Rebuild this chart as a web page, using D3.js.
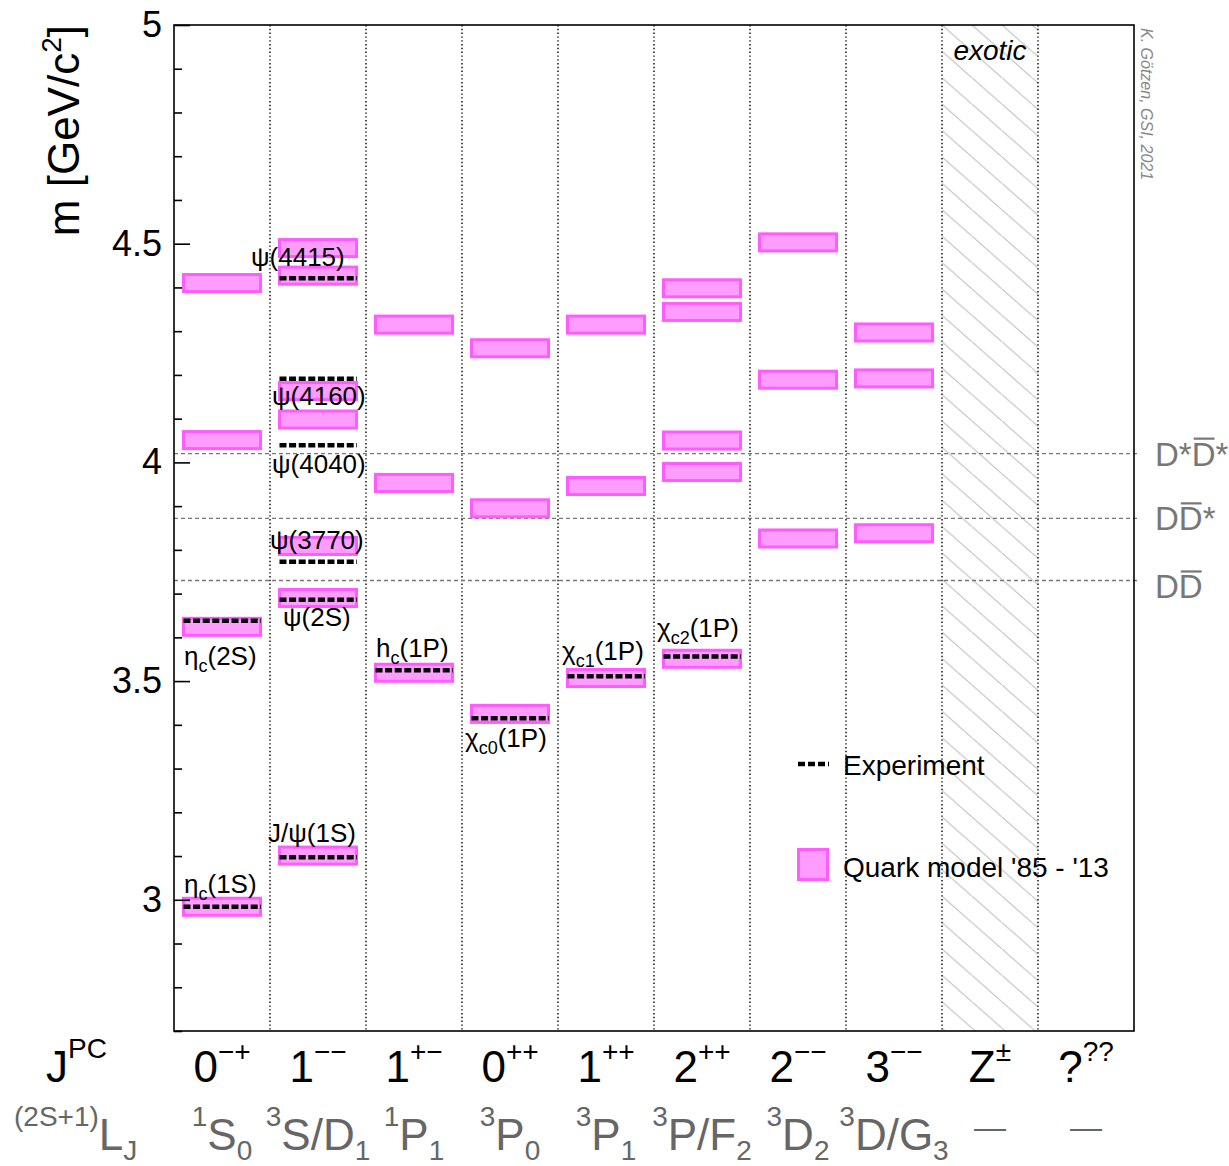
<!DOCTYPE html>
<html>
<head>
<meta charset="utf-8">
<script src="https://cdn.jsdelivr.net/npm/d3@7"></script>
<style>
  body { margin: 0; background: #fff; }
  svg { display: block; }
</style>
</head>
<body>
<div id="chart"></div>
<script>
// colonnes : J^PC et (2S+1)L_J
const jpcBase = ["0", "1", "1", "0", "1", "2", "2", "3", "Z", "?"];
const jpcSup = ["−+", "−−", "+−", "++", "++", "++", "−−", "−−", "±", "??"];
const lsPre = ["1", "3", "1", "3", "3", "3", "3", "3", "", ""];
const lsMain = ["S", "S/D", "P", "P", "P", "P/F", "D", "D/G", "—", "—"];
const lsSub = ["0", "1", "1", "0", "1", "2", "2", "3", "", ""];

// modèle des quarks (GeV/c2)
const modelCol = [0, 0, 0, 0, 1, 1, 1, 1, 1, 1, 1, 2, 2, 2, 3, 3, 3, 4, 4, 4, 5, 5, 5, 5, 5, 6, 6, 6, 7, 7, 7];
const modelMass = [4.410, 4.051, 3.624, 2.984,
  4.490, 4.427, 4.163, 4.098, 3.809, 3.690, 3.101,
  4.315, 3.953, 3.519,
  4.261, 3.895, 3.425,
  4.315, 3.946, 3.507,
  4.398, 4.344, 4.050, 3.978, 3.551,
  4.503, 4.189, 3.826,
  4.297, 4.192, 3.838];

// états mesurés
const expCol = [0, 0, 1, 1, 1, 1, 1, 1, 2, 3, 4, 5];
const expMass = [2.984, 3.638, 3.097, 3.686, 3.773, 4.039, 4.191, 4.421, 3.525, 3.415, 3.511, 3.556];
const expSym = ["η", "η", "J/ψ", "ψ", "ψ", "ψ", "ψ", "ψ", "h", "χ", "χ", "χ"];
const expSub = ["c", "c", "", "", "", "", "", "", "c", "c0", "c1", "c2"];
const expTail = ["(1S)", "(2S)", "(1S)", "(2S)", "(3770)", "(4040)", "(4160)", "(4415)", "(1P)", "(1P)", "(1P)", "(1P)"];

// seuils D D-bar
const thrMass = [4.020, 3.872, 3.730];
const thrText = ["D*D*", "DD*", "DD"];
const thrBar = [2, 1, 1];

const yMajor = [3, 3.5, 4, 4.5, 5];

// placement des étiquettes (px)
const labelDx = [10, 10, -2, 13, 0, 2, 2, -19, 10, 3, 4, 3];
const labelDy = [-14, 44, -15, 26, -13, 28, 26, -12, -13, 29, -16, -20];
const thrDy = [12, 12, 18];

const W = 1229, H = 1166;
const x0 = 174, x1 = 1134, yTop = 25, yBot = 1031;
const ff = '"Liberation Sans", Arial, Helvetica, sans-serif';

const svg = d3.select("#chart").append("svg")
  .attr("width", W).attr("height", H)
  .style("font-family", ff);

svg.append("rect").attr("width", W).attr("height", H).attr("fill", "#fff");

const x = d3.scaleBand().domain(d3.range(10)).range([x0, x1]);
const y = d3.scaleLinear().domain([2.7, 5]).range([yBot, yTop]);

// texte avec exposants / indices
function rich(sel, px, py, parts, anchor) {
  const t = sel.append("text").attr("x", px).attr("y", py)
    .attr("text-anchor", anchor || "start");
  let cur = 0;
  parts.filter(p => p.t !== "").forEach(p => {
    const s = p.shift || 0;
    t.append("tspan").attr("dy", s - cur).style("font-size", p.size + "px").text(p.t);
    cur = s;
  });
  return t;
}

// hachures colonne exotique
const defs = svg.append("defs");
const pat = defs.append("pattern").attr("id", "hatch")
  .attr("patternUnits", "userSpaceOnUse").attr("width", 30).attr("height", 26.4)
  .attr("x", x(8)).attr("y", yTop);
pat.append("path").attr("d", "M0,0L30,26.4")
  .attr("stroke", "#c4c4c4").attr("stroke-width", 1.2);
svg.append("rect")
  .attr("x", x(8)).attr("y", yTop).attr("width", x.bandwidth()).attr("height", yBot - yTop)
  .attr("fill", "url(#hatch)");

// séparateurs de colonnes
svg.append("g").selectAll("line").data(d3.range(1, 10)).enter().append("line")
  .attr("x1", d => x(d)).attr("x2", d => x(d))
  .attr("y1", yTop).attr("y2", yBot)
  .attr("stroke", "#222").attr("stroke-width", 1.6).attr("stroke-dasharray", "1.4,2.4");

// seuils
svg.append("g").selectAll("line").data(thrMass).enter().append("line")
  .attr("x1", x0).attr("x2", x1 + 6)
  .attr("y1", d => y(d)).attr("y2", d => y(d))
  .attr("stroke", "#777").attr("stroke-width", 1.3).attr("stroke-dasharray", "4,3");

// boîtes du modèle
const boxHalf = 0.0195;
svg.append("g").selectAll("rect").data(modelMass).enter().append("rect")
  .attr("x", (d, i) => x(modelCol[i]) + 9.5)
  .attr("width", x.bandwidth() - 19)
  .attr("y", d => y(d + boxHalf))
  .attr("height", d => y(d - boxHalf) - y(d + boxHalf))
  .attr("fill", "#ff9cff").attr("stroke", "#ff5cff").attr("stroke-width", 3);

// lignes expérimentales
svg.append("g").selectAll("line").data(expMass).enter().append("line")
  .attr("x1", (d, i) => x(expCol[i]) + 9.5)
  .attr("x2", (d, i) => x(expCol[i]) + x.bandwidth() - 9)
  .attr("y1", d => y(d)).attr("y2", d => y(d))
  .attr("stroke", "#000").attr("stroke-width", 4.5).attr("stroke-dasharray", "7,2.6");

// étiquettes des états
const lab = svg.append("g").attr("fill", "#000");
expMass.forEach((m, i) => {
  const parts = [{ t: expSym[i], size: 26 }];
  if (expSub[i]) parts.push({ t: expSub[i], size: 18, shift: 7 });
  parts.push({ t: expTail[i], size: 26, shift: 0 });
  rich(lab, x(expCol[i]) + labelDx[i], y(m) + labelDy[i], parts);
});

// cadre
svg.append("rect").attr("x", x0).attr("y", yTop)
  .attr("width", x1 - x0).attr("height", yBot - yTop)
  .attr("fill", "none").attr("stroke", "#000").attr("stroke-width", 1.6);

// axe Y
const minor = d3.range(27, 51).map(d => d / 10).filter(d => !yMajor.includes(d));
svg.append("g").attr("transform", `translate(${x0},0)`)
  .call(d3.axisLeft(y).tickValues(minor).tickSizeInner(-8).tickSizeOuter(0).tickFormat(""))
  .call(g => g.select(".domain").remove())
  .call(g => g.selectAll("line").attr("stroke-width", 1.6));
svg.append("g").attr("transform", `translate(${x0},0)`)
  .call(d3.axisLeft(y).tickValues(yMajor).tickSizeInner(-16).tickSizeOuter(0)
    .tickPadding(12).tickFormat(d3.format("~g")))
  .attr("font-size", 36).attr("font-family", ff)
  .call(g => g.select(".domain").remove())
  .call(g => g.selectAll("line").attr("stroke-width", 1.6))
  .call(g => g.selectAll("text").attr("fill", "#000"));

rich(svg.append("g").attr("transform", `translate(79,${yTop}) rotate(-90)`), 0, 0, [
  { t: "m [GeV/c", size: 44 },
  { t: "2", size: 28, shift: -18 },
  { t: "]", size: 44, shift: 0 }
], "end");

// étiquettes de colonnes
const row1 = svg.append("g").attr("fill", "#000");
rich(row1, 46, 1082, [{ t: "J", size: 44 }, { t: "PC", size: 28, shift: -24 }]);
jpcBase.forEach((b, i) => {
  rich(row1, x(i) + x.bandwidth() / 2, 1082,
    [{ t: b, size: 44 }, { t: jpcSup[i], size: 28, shift: -21 }], "middle");
});

const row2 = svg.append("g").attr("fill", "#666");
rich(row2, 14, 1150, [
  { t: "(2S+1)", size: 28, shift: -24 },
  { t: "L", size: 44, shift: 0 },
  { t: "J", size: 28, shift: 10 }
]);
lsMain.forEach((mn, i) => {
  const parts = [];
  if (lsPre[i]) parts.push({ t: lsPre[i], size: 28, shift: -24 });
  parts.push({ t: mn, size: lsPre[i] ? 44 : 32, shift: lsPre[i] ? 0 : -12 });
  if (lsSub[i]) parts.push({ t: lsSub[i], size: 28, shift: 10 });
  rich(row2, x(i) + x.bandwidth() / 2, 1150, parts, "middle");
});

// noms des seuils avec barre
const thr = svg.append("g").attr("fill", "#777");
thrMass.forEach((m, i) => {
  const t = thr.append("text").attr("x", 1155).attr("y", y(m) + thrDy[i])
    .style("font-size", "33px").text(thrText[i]);
  const e = t.node().getExtentOfChar(thrBar[i]);
  thr.append("line")
    .attr("x1", e.x + 2).attr("x2", e.x + e.width - 1)
    .attr("y1", y(m) + thrDy[i] - 27).attr("y2", y(m) + thrDy[i] - 27)
    .attr("stroke", "#777").attr("stroke-width", 2.2);
});

// "exotic"
svg.append("text").attr("x", x(8) + x.bandwidth() / 2).attr("y", 60)
  .attr("text-anchor", "middle").style("font-size", "28px").style("font-style", "italic")
  .text("exotic");

// légende
const leg = svg.append("g");
leg.append("line").attr("x1", 798).attr("x2", 829).attr("y1", 764).attr("y2", 764)
  .attr("stroke", "#000").attr("stroke-width", 4.5).attr("stroke-dasharray", "7,3");
leg.append("text").attr("x", 843).attr("y", 775).style("font-size", "28px").text("Experiment");
leg.append("rect").attr("x", 798.5).attr("y", 849.5).attr("width", 29).attr("height", 30)
  .attr("fill", "#ff9cff").attr("stroke", "#ff5cff").attr("stroke-width", 3);
leg.append("text").attr("x", 843).attr("y", 877).style("font-size", "28px").text("Quark model '85 - '13");

// signature
svg.append("text").attr("transform", "translate(1141,28) rotate(90)")
  .style("font-size", "16px").style("font-style", "italic").attr("fill", "#888")
  .text("K. Götzen, GSI, 2021");
</script>
</body>
</html>
